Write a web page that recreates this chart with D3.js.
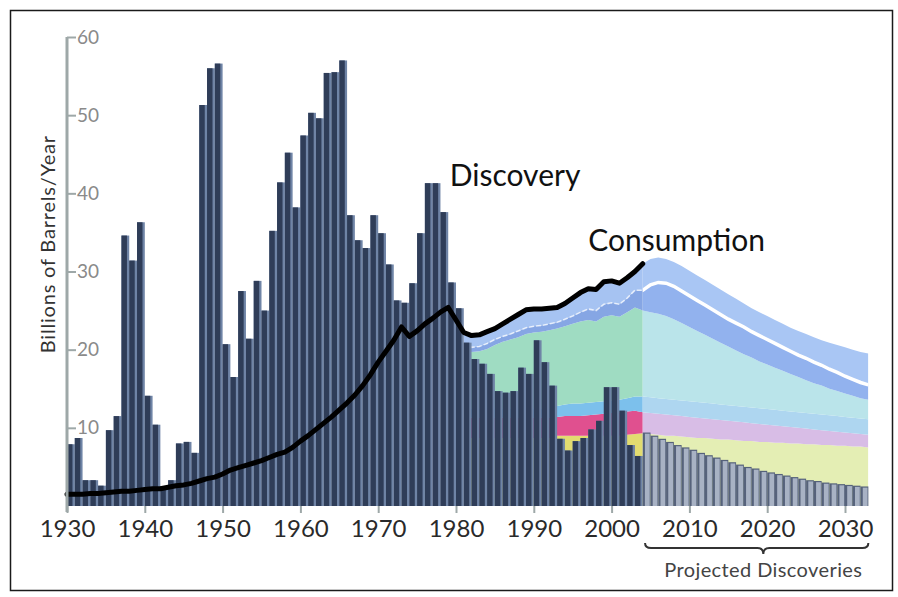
<!DOCTYPE html>
<html>
<head>
<meta charset="utf-8">
<script src="https://cdn.jsdelivr.net/npm/d3@7"></script>
<style>
  body { margin: 0; background: #fff; }
  svg text { font-family: Lato, "Open Sans", sans-serif; }
</style>
</head>
<body>
<div id="chart"></div>
<script>
// discovery bars (billions of barrels / year)
var histYears = d3.range(1930, 2004);
var histDiscovery = [
  7.9, 8.7, 3.3, 3.3, 2.6, 9.7, 11.5, 34.6, 31.4, 36.3,
  14.1, 10.4, 2.5, 3.3, 8.0, 8.2, 6.8, 51.3, 56.0, 56.6,
  20.7, 16.5, 27.5, 21.4, 28.8, 25.0, 35.2, 41.4, 45.2, 38.2,
  47.4, 50.3, 49.6, 55.4, 55.5, 57.0, 37.2, 34.0, 33.0, 37.2,
  34.9, 30.9, 26.3, 26.0, 28.5, 34.9, 41.3, 41.3, 37.6, 28.6,
  25.3, 20.9, 18.8, 18.2, 16.9, 14.7, 14.5, 14.7, 17.7, 16.9,
  21.2, 18.4, 15.4, 8.6, 7.1, 8.3, 8.7, 9.8, 10.9, 15.2,
  15.2, 12.2, 7.8, 6.4
];
var projYears = d3.range(2004, 2033);
var projDiscovery = [
  9.4, 9.0, 8.6, 8.2, 7.8, 7.5, 7.2, 6.8, 6.5, 6.2,
  5.9, 5.6, 5.3, 5.0, 4.8, 4.5, 4.3, 4.1, 3.9, 3.7,
  3.5, 3.3, 3.2, 3.0, 2.9, 2.8, 2.7, 2.6, 2.5
];

// consumption line
var consYears = d3.range(1930, 2005);
var consumption = [
  1.5, 1.5, 1.5, 1.6, 1.6, 1.7, 1.8, 1.9, 1.9, 2.0,
  2.1, 2.2, 2.2, 2.4, 2.6, 2.7, 2.9, 3.2, 3.5, 3.7,
  4.1, 4.6, 4.9, 5.2, 5.5, 5.8, 6.2, 6.6, 6.9, 7.5,
  8.3, 9.0, 9.8, 10.6, 11.4, 12.3, 13.2, 14.2, 15.4, 16.8,
  18.4, 19.8, 21.2, 22.9, 21.7, 22.4, 23.3, 24.0, 24.8, 25.4,
  23.8, 22.2, 21.8, 21.9, 22.3, 22.7, 23.3, 23.9, 24.5, 25.1,
  25.2, 25.2, 25.3, 25.4, 25.9, 26.6, 27.3, 27.8, 27.7, 28.7,
  28.8, 28.5, 29.2, 30.0, 31.0
];

// stacked bands (upper edge of each band), history 1981-2003
var bandHistYears = d3.range(1981, 2004);
var histYellow = [8.7, 8.7, 8.7, 8.7, 8.7, 8.7, 8.7, 8.7, 8.7, 8.7, 8.7, 8.7,
  9.0, 9.0, 9.0, 9.0, 9.0, 9.0, 9.0, 9.0, 9.0, 9.1, 9.2];
var histPink = [11.3, 11.3, 11.3, 11.3, 11.3, 11.3, 11.3, 11.3, 11.3, 11.3, 11.3, 11.3,
  11.4, 11.5, 11.5, 11.5, 11.6, 11.7, 11.8, 11.9, 12.0, 12.1, 12.2];
var histLightBlue = [12.5, 12.5, 12.5, 12.5, 12.5, 12.5, 12.5, 12.5, 12.5, 12.5, 12.5, 12.5,
  12.8, 13.0, 13.1, 13.1, 13.2, 13.3, 13.4, 13.5, 13.6, 13.8, 14.0];
var histMint = [20.2, 19.7, 19.8, 20.1, 20.6, 21.0, 21.3, 21.6, 22.0, 22.2, 22.3, 22.5,
  22.7, 23.0, 23.3, 23.6, 23.8, 23.6, 24.2, 24.4, 24.2, 24.8, 25.4];
var histWhite = [20.8, 20.3, 20.4, 20.8, 21.3, 21.7, 22.0, 22.4, 22.8, 23.0, 23.1, 23.3,
  23.5, 23.9, 24.3, 24.8, 25.2, 25.0, 25.8, 26.0, 25.8, 26.6, 27.6];

// projection 2004-2033
var bandProjYears = d3.range(2004, 2034);
var projYellow = [9.3, 9.2, 9.1, 9.0, 9.0, 8.9, 8.8, 8.7, 8.7, 8.6, 8.5, 8.5, 8.4, 8.3, 8.3,
  8.2, 8.2, 8.1, 8.1, 8.0, 8.0, 7.9, 7.9, 7.8, 7.8, 7.7, 7.7, 7.6, 7.6, 7.5];
var projPink = [12.0, 11.9, 11.8, 11.7, 11.6, 11.5, 11.4, 11.3, 11.2, 11.1, 11.0, 10.9, 10.8, 10.7, 10.6,
  10.5, 10.4, 10.3, 10.2, 10.1, 10.0, 9.9, 9.8, 9.7, 9.6, 9.5, 9.4, 9.3, 9.2, 9.1];
var projLightBlue = [14.0, 13.9, 13.8, 13.7, 13.6, 13.5, 13.4, 13.3, 13.2, 13.1, 13.0, 12.9, 12.8, 12.7, 12.6,
  12.5, 12.4, 12.3, 12.2, 12.1, 12.0, 11.9, 11.8, 11.7, 11.6, 11.5, 11.4, 11.3, 11.2, 11.1];
var projMint = [25.0, 24.8, 24.6, 24.3, 23.9, 23.4, 22.9, 22.4, 21.9, 21.4, 20.9, 20.4, 19.9, 19.4, 19.0,
  18.5, 18.1, 17.7, 17.3, 16.9, 16.5, 16.1, 15.7, 15.4, 15.0, 14.7, 14.4, 14.1, 13.8, 13.6];
var projWhite = [27.6, 28.3, 28.6, 28.5, 28.1, 27.5, 26.9, 26.3, 25.7, 25.1, 24.5, 23.9, 23.4, 22.9, 22.3,
  21.8, 21.3, 20.8, 20.3, 19.8, 19.3, 18.9, 18.4, 18.0, 17.5, 17.1, 16.6, 16.2, 15.8, 15.5];
var projTop = [31.0, 31.6, 31.8, 31.6, 31.2, 30.7, 30.1, 29.5, 28.9, 28.3, 27.7, 27.1, 26.5, 25.9, 25.3,
  24.8, 24.3, 23.8, 23.3, 22.8, 22.4, 22.0, 21.6, 21.2, 20.9, 20.6, 20.3, 20.0, 19.7, 19.5];

var xTicks = [1930, 1940, 1950, 1960, 1970, 1980, 1990, 2000, 2010, 2020, 2030];
var yTicks = [10, 20, 30, 40, 50, 60];

var width = 898, height = 597;

var svg = d3.select("#chart").append("svg")
    .attr("width", width)
    .attr("height", height);

var x = d3.scaleLinear().domain([1930, 2030]).range([67, 845]);
var y = d3.scaleLinear().domain([0, 60]).range([506, 37]);

// frame
svg.append("rect")
  .attr("x", 10.5).attr("y", 10.5)
  .attr("width", 882).attr("height", 580)
  .attr("fill", "none")
  .attr("stroke", "#1a1a1a")
  .attr("stroke-width", 1.5);

// ---- bands ----
var bandYears = bandHistYears.concat(bandProjYears);
var zeros = bandYears.map(function() { return 0; });
var yellowB = histYellow.concat(projYellow);
var pinkB = histPink.concat(projPink);
var lightB = histLightBlue.concat(projLightBlue);
var mintB = histMint.concat(projMint);
var whiteB = histWhite.concat(projWhite);
var topB = consumption.slice(51, 74).concat(projTop);

var layers = [
  { lo: zeros,  hi: yellowB, hist: "#e2dc70", proj: "#e4eeb4" },
  { lo: yellowB, hi: pinkB,  hist: "#e0508f", proj: "#d8bde6" },
  { lo: pinkB,  hi: lightB,  hist: "#7cc0ec", proj: "#aed6f0" },
  { lo: lightB, hi: mintB,   hist: "#9fdcc2", proj: "#bae4ea" },
  { lo: mintB,  hi: whiteB,  hist: "#86a6e4", proj: "#92b2ee" },
  { lo: whiteB, hi: topB,    hist: "#a6c3f2", proj: "#a9c6f4" }
];

var defs = svg.append("defs");
defs.append("clipPath").attr("id", "clipHist")
  .append("rect")
  .attr("x", x(1981)).attr("y", 0)
  .attr("width", x(2004) - x(1981)).attr("height", height);
defs.append("clipPath").attr("id", "clipProj")
  .append("rect")
  .attr("x", x(2004)).attr("y", 0)
  .attr("width", x(2033) - x(2004)).attr("height", height);

function bandArea(layer) {
  return d3.area()
    .x(function(d, i) { return x(bandYears[i]); })
    .y0(function(d, i) { return y(layer.lo[i]); })
    .y1(function(d, i) { return y(layer.hi[i]); });
}

var gHist = svg.append("g").attr("clip-path", "url(#clipHist)");
var gProj = svg.append("g").attr("clip-path", "url(#clipProj)");

layers.forEach(function(layer) {
  gHist.append("path")
    .datum(bandYears)
    .attr("fill", layer.hist)
    .attr("d", bandArea(layer));
  gProj.append("path")
    .datum(bandYears)
    .attr("fill", layer.proj)
    .attr("d", bandArea(layer));
});

var whiteLine = d3.line()
    .x(function(d, i) { return x(bandYears[i]); })
    .y(function(d) { return y(d); });

gHist.append("path")
  .datum(whiteB)
  .attr("fill", "none")
  .attr("stroke", "#fff")
  .attr("stroke-opacity", 0.7)
  .attr("stroke-width", 1.6)
  .attr("stroke-dasharray", "5,2")
  .attr("d", whiteLine);
gProj.append("path")
  .datum(whiteB)
  .attr("fill", "none")
  .attr("stroke", "#fff")
  .attr("stroke-width", 3.5)
  .attr("d", whiteLine);

// ---- bars ----
var bw = x(1931) - x(1930);

var histBars = svg.append("g").selectAll("g")
  .data(histYears)
  .enter().append("g");
histBars.append("rect")
  .attr("x", function(d) { return x(d); })
  .attr("y", function(d, i) { return y(histDiscovery[i]); })
  .attr("width", bw)
  .attr("height", function(d, i) { return y(0) - y(histDiscovery[i]); })
  .attr("fill", "#6f84a6");
histBars.append("rect")
  .attr("x", function(d) { return x(d); })
  .attr("y", function(d, i) { return y(histDiscovery[i]); })
  .attr("width", bw - 2.3)
  .attr("height", function(d, i) { return y(0) - y(histDiscovery[i]); })
  .attr("fill", "#2f3d58");

var projBars = svg.append("g").selectAll("g")
  .data(projYears)
  .enter().append("g");
projBars.append("rect")
  .attr("x", function(d) { return x(d); })
  .attr("y", function(d, i) { return y(projDiscovery[i]); })
  .attr("width", bw)
  .attr("height", function(d, i) { return y(0) - y(projDiscovery[i]); })
  .attr("fill", "#56627b");
projBars.append("rect")
  .attr("x", function(d) { return x(d) + 2.2; })
  .attr("y", function(d, i) { return y(projDiscovery[i]) + 1.2; })
  .attr("width", bw - 3)
  .attr("height", function(d, i) { return y(0) - y(projDiscovery[i]) - 1.2; })
  .attr("fill", "#a8b2c4");

// ---- consumption ----
var consLine = d3.line()
    .x(function(d, i) { return x(consYears[i]); })
    .y(function(d) { return y(d); });

svg.append("path")
  .datum(consumption)
  .attr("fill", "none")
  .attr("stroke", "#000")
  .attr("stroke-width", 5)
  .attr("stroke-linejoin", "round")
  .attr("stroke-linecap", "round")
  .attr("d", consLine);

// ---- axes ----
var yAxis = d3.axisRight(y)
    .tickValues(yTicks)
    .tickSize(9)
    .tickSizeOuter(0)
    .tickPadding(1);

var gy = svg.append("g")
  .attr("transform", "translate(" + x(1930) + ",0)")
  .call(yAxis);
gy.select(".domain").remove();
gy.selectAll(".tick line").attr("stroke", "#9ea8a8").attr("stroke-width", 2);
gy.selectAll(".tick text")
  .attr("fill", "#8a8a8a")
  .style("font-size", "19px");
svg.append("line")
  .attr("x1", x(1930)).attr("x2", x(1930))
  .attr("y1", y(60)).attr("y2", y(0) + 6)
  .attr("stroke", "#9ea8a8")
  .attr("stroke-width", 3);

var xAxis = d3.axisBottom(x)
    .tickValues(xTicks)
    .tickSize(7)
    .tickPadding(7)
    .tickFormat(d3.format("d"));

var gx = svg.append("g")
  .attr("transform", "translate(0," + y(0) + ")")
  .call(xAxis);
gx.select(".domain").remove();
gx.selectAll(".tick line").attr("stroke", "#9ea8a8").attr("stroke-width", 2);
gx.selectAll(".tick text")
  .attr("fill", "#2a2a2a")
  .style("font-size", "24px");

// axis title
svg.append("text")
  .attr("transform", "translate(55," + y(33.5) + ") rotate(-90)")
  .attr("text-anchor", "middle")
  .attr("fill", "#333")
  .style("font-size", "20px")
  .style("letter-spacing", "0.8px")
  .text("Billions of Barrels/Year");

// series labels
svg.append("text")
  .attr("x", x(1979.2)).attr("y", y(41))
  .attr("fill", "#111")
  .style("font-size", "30px")
  .text("Discovery");

svg.append("text")
  .attr("x", x(1997)).attr("y", y(32.6))
  .attr("fill", "#111")
  .style("font-size", "30px")
  .text("Consumption");

// projected bracket
var bl = x(2004.3), br = x(2033), bm = x(2019.5), by = 548;
svg.append("path")
  .attr("fill", "none")
  .attr("stroke", "#333")
  .attr("stroke-width", 2)
  .attr("d", "M" + bl + "," + (by - 5) + " Q" + bl + "," + by + " " + (bl + 6) + "," + by +
             " L" + (bm - 6) + "," + by + " Q" + bm + "," + by + " " + bm + "," + (by + 6) +
             " Q" + bm + "," + by + " " + (bm + 6) + "," + by +
             " L" + (br - 6) + "," + by + " Q" + br + "," + by + " " + br + "," + (by - 5));

svg.append("text")
  .attr("x", bm).attr("y", 577)
  .attr("text-anchor", "middle")
  .attr("fill", "#444")
  .style("font-size", "20px")
  .style("letter-spacing", "0.4px")
  .text("Projected Discoveries");
</script>
</body>
</html>
